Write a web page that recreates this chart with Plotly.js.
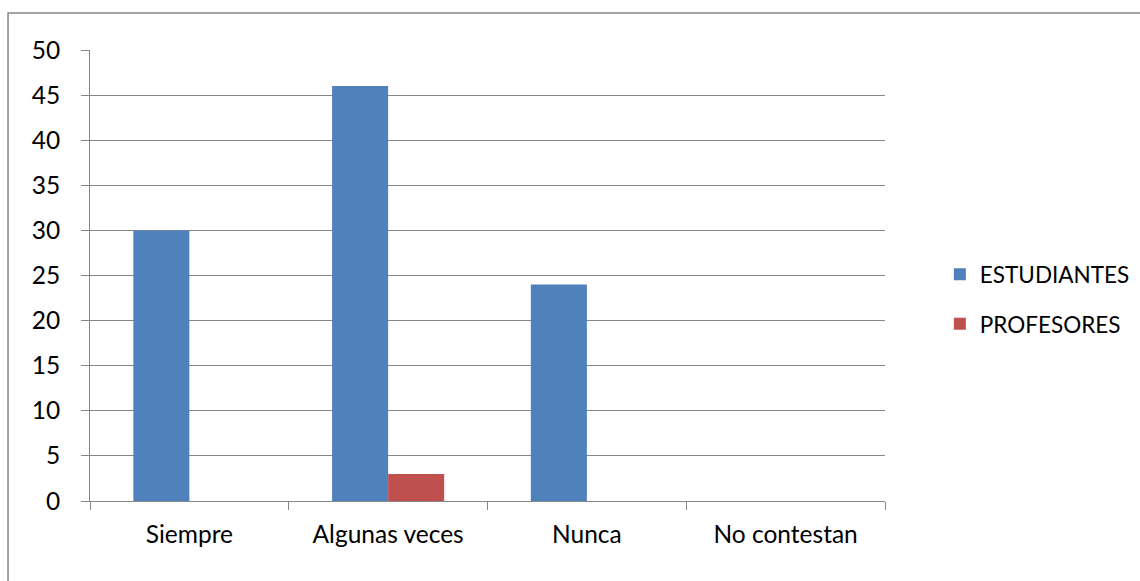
<!DOCTYPE html>
<html><head><meta charset="utf-8">
<script src="https://cdn.plot.ly/plotly-3.0.1.min.js"></script>
<style>html,body{margin:0;padding:0;background:#fff}#c{width:1140px;height:581px}</style>
</head><body><div id="c"></div>
<script>
const categories = ["Siempre", "Algunas veces", "Nunca", "No contestan"];
const estudiantes = [30, 46, 24, 0];
const profesores = [0, 3, 0, 0];
const yTicks = [0, 5, 10, 15, 20, 25, 30, 35, 40, 45, 50];

const font = {family: "Lato, 'Open Sans', sans-serif", size: 24.5, color: "#000"};
const legFont = {family: "Lato, 'Open Sans', sans-serif", size: 22.5, color: "#000"};
const data = [
  {type: "bar", name: "ESTUDIANTES", x: categories, y: estudiantes, marker: {color: "#4F81BD"}, legend: "legend"},
  {type: "bar", name: "PROFESORES", x: categories, y: profesores, marker: {color: "#C0504D"}, legend: "legend2"}
];
const layout = {
  width: 1140, height: 581,
  margin: {l: 90, r: 255, t: 50, b: 80, autoexpand: false},
  paper_bgcolor: "#fff", plot_bgcolor: "#fff",
  font: font,
  barmode: "group", bargap: 0.436, bargroupgap: 0,
  xaxis: {type: "category", tickson: "boundaries", ticks: "outside", ticklen: 8, tickcolor: "#868686",
          showline: true, linecolor: "#868686", linewidth: 1, showgrid: false, ticklabelstandoff: 12,
          tickfont: font, automargin: false},
  yaxis: {range: [0, 50], tickvals: yTicks, ticks: "outside", ticklen: 8, tickcolor: "#868686",
          showline: true, linecolor: "#868686", linewidth: 1, showgrid: true, gridcolor: "#868686",
          gridwidth: 1, zeroline: false, ticklabelstandoff: 16, tickfont: font, automargin: false},
  showlegend: true,
  legend: {x: 1.069, y: 0.502, xanchor: "left", yanchor: "middle", font: legFont, bgcolor: "rgba(0,0,0,0)", itemwidth: 30},
  legend2: {x: 1.069, y: 0.392, xanchor: "left", yanchor: "middle", font: legFont, bgcolor: "rgba(0,0,0,0)", itemwidth: 30},
  shapes: [{type: "rect", xref: "paper", yref: "paper", x0: -0.1031, x1: 1.33, y0: -0.2, y1: 1.082,
            line: {color: "#868686", width: 1.5}, fillcolor: "rgba(0,0,0,0)", layer: "below"}]
};
Plotly.newPlot("c", data, layout, {displayModeBar: false, staticPlot: true});
</script></body></html>
